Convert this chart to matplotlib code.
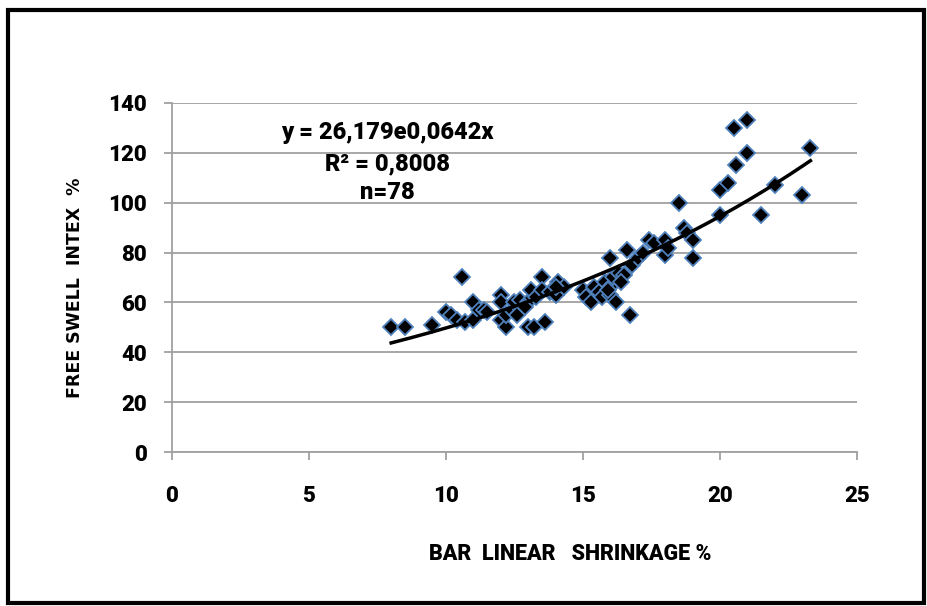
import numpy as np
import matplotlib.pyplot as plt
from matplotlib.patches import Rectangle

# bar linear shrinkage (%) vs free swell index (%)
shrinkage = [8.0, 8.5, 9.5, 10.0, 10.2, 10.4, 10.6, 10.7, 11.0, 11.0,
             11.2, 11.4, 12.0, 12.0, 12.0, 12.2, 12.2, 12.4, 12.5, 12.6,
             12.7, 13.0, 13.0, 13.1, 13.2, 13.3, 13.5, 13.5, 13.6, 13.8,
             14.0, 14.1, 14.3, 15.0, 15.1, 15.3, 15.4, 15.6, 15.7, 15.8,
             16.0, 16.0, 16.0, 16.1, 16.2, 16.3, 16.5, 16.6, 16.7, 16.8,
             17.0, 17.2, 17.4, 17.6, 18.0, 18.0, 18.1, 18.5, 18.7, 18.8,
             19.0, 19.0, 20.0, 20.0, 20.3, 20.5, 20.6, 21.0, 21.0, 21.5,
             22.0, 23.0, 23.3, 14.0, 15.9, 16.4, 12.9, 11.5]
swell = [50, 50, 51, 56, 55, 53, 70, 52, 60, 53,
         57, 57, 63, 60, 53, 50, 55, 57, 60, 55,
         61, 50, 60, 65, 50, 62, 70, 65, 52, 64,
         63, 68, 66, 65, 62, 60, 66, 64, 62, 68,
         78, 66, 63, 70, 60, 72, 71, 81, 55, 75,
         78, 80, 85, 84, 85, 79, 82, 100, 90, 88,
         85, 78, 105, 95, 108, 130, 115, 133, 120, 95,
         107, 103, 122, 66, 65, 68, 58, 56]

# exponential trend y = a*exp(b*x)
a, b = 26.179, 0.0642
xs = np.linspace(min(shrinkage), max(shrinkage), 200)
ys = a * np.exp(b * xs)

font = ['Roboto', 'DejaVu Sans']

fig = plt.figure(figsize=(9.27, 6.06), dpi=100)
ax = fig.add_axes([0.1855, 0.2541, 0.739, 0.576])

ax.plot(shrinkage, swell, linestyle='none', marker='D', markersize=8.5,
        markerfacecolor='black', markeredgecolor='#4f81bd', markeredgewidth=1.3,
        zorder=3)
ax.plot(xs, ys, color='black', linewidth=2.5, zorder=4)

ax.set_xlim(0, 25)
ax.set_ylim(0, 140)
ax.set_xticks(range(0, 26, 5))
ax.set_yticks(range(0, 141, 20))
ax.grid(axis='y', color='#a0a0a0', linewidth=1.3)
ax.set_axisbelow(True)
for s in ['top', 'right']:
    ax.spines[s].set_visible(False)
for s in ['left', 'bottom']:
    ax.spines[s].set_color('#a0a0a0')
    ax.spines[s].set_linewidth(1.3)
ax.tick_params(axis='x', direction='out', length=6, color='#a0a0a0', width=1.3, pad=18)
ax.tick_params(axis='y', direction='out', length=6, color='#a0a0a0', width=1.3, pad=12)
for lab in ax.get_xticklabels() + ax.get_yticklabels():
    lab.set_fontfamily(font)
    lab.set_fontweight('heavy')
    lab.set_fontsize(16)

ax.set_xlabel('BAR  LINEAR   SHRINKAGE %', fontfamily=font, fontweight='heavy',
              fontsize=15.5)
ax.xaxis.set_label_coords(0.581, -0.26)
ax.set_ylabel('FREE SWELL  INTEX  %', fontfamily='DejaVu Sans', fontweight='bold',
              fontsize=12.5)
ax.yaxis.set_label_coords(-0.128, 0.47)

eq_lines = ['y = 26,179e0,0642x', 'R² = 0,8008', 'n=78']
for txt, yy in zip(eq_lines, [128, 115.5, 104]):
    ax.text(7.85, yy, txt, ha='center', va='center',
            fontfamily=font, fontweight='heavy', fontsize=17)

# outer frame
fig.patches.append(Rectangle((0.009, 0.005), 0.988, 0.979, transform=fig.transFigure,
                             fill=False, edgecolor='black', linewidth=3))

fig.savefig('out.png', dpi=100)
